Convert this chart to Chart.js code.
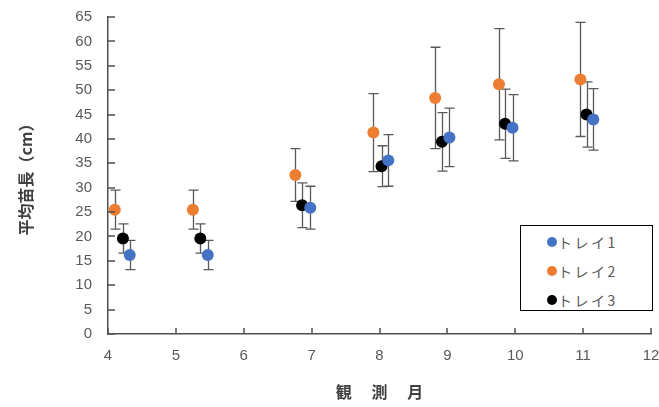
<!DOCTYPE html>
<html>
<head>
<meta charset="utf-8">
<script src="https://cdn.jsdelivr.net/npm/chart.js@4.4.1/dist/chart.umd.min.js"></script>
<style>
html,body{margin:0;padding:0;background:#fff;}
#wrap{position:relative;width:659px;height:407px;}
#legend{position:absolute;left:520px;top:225px;width:133px;height:86px;border:1px solid #000;box-sizing:border-box;background:#fff;font-family:"Noto Sans CJK JP","Noto Sans",sans-serif;font-size:14px;color:#595959;}
.row{position:absolute;left:0;height:20px;line-height:20px;white-space:nowrap;}
.dot{position:absolute;left:26px;top:5px;width:10px;height:10px;border-radius:50%;}
.lbl{position:absolute;left:37px;top:0;letter-spacing:2.5px;}
</style>
</head>
<body>
<div id="wrap">
<canvas id="c" width="659" height="407"></canvas>
<div id="legend"></div>
</div>
<script>
// ---- data ----
const seriesNames = ['トレイ1', 'トレイ2', 'トレイ3'];
const seriesColors = ['#4472C4', '#ED7D31', '#000000'];

// トレイ1 (blue)
const tray1X   = [4.32, 5.47, 6.98, 8.13, 9.03, 9.96, 11.15];
const tray1Y   = [16.2, 16.2, 25.9, 35.6, 40.3, 42.3, 44.0];
const tray1Err = [3.0, 3.0, 4.4, 5.3, 6.0, 6.8, 6.3];

// トレイ2 (orange)
const tray2X   = [4.10, 5.25, 6.76, 7.91, 8.82, 9.76, 10.96];
const tray2Y   = [25.5, 25.5, 32.6, 41.3, 48.4, 51.2, 52.2];
const tray2Err = [4.0, 4.0, 5.4, 8.0, 10.4, 11.4, 11.7];

// トレイ3 (black)
const tray3X   = [4.22, 5.36, 6.86, 8.03, 8.92, 9.85, 11.05];
const tray3Y   = [19.6, 19.6, 26.4, 34.4, 39.4, 43.1, 45.0];
const tray3Err = [3.0, 3.0, 4.6, 4.2, 6.0, 7.1, 6.7];

const xTickValues = [4, 5, 6, 7, 8, 9, 10, 11, 12];
const yTickValues = [0, 5, 10, 15, 20, 25, 30, 35, 40, 45, 50, 55, 60, 65];

const xTitle = '観　 測　 月';
const yTitle = '平均苗長（cm）';

// ---- build ----
const allX = [tray1X, tray2X, tray3X];
const allY = [tray1Y, tray2Y, tray3Y];
const allErr = [tray1Err, tray2Err, tray3Err];

const datasets = seriesNames.map((name, s) => ({
  label: name,
  data: allX[s].map((x, i) => ({ x: x, y: allY[s][i] })),
  backgroundColor: seriesColors[s],
  borderColor: seriesColors[s],
  pointRadius: 6,
  pointHoverRadius: 6,
  borderWidth: 0,
  errors: allErr[s]
}));

const errorBarPlugin = {
  id: 'errorBars',
  beforeDatasetsDraw(chart) {
    const ctx = chart.ctx;
    const xs = chart.scales.x, ys = chart.scales.y;
    ctx.save();
    ctx.strokeStyle = '#595959';
    ctx.lineWidth = 1.3;
    chart.data.datasets.forEach((ds) => {
      ds.data.forEach((p, i) => {
        const e = ds.errors[i];
        const px = Math.round(xs.getPixelForValue(p.x)) + 0.5;
        const yt = ys.getPixelForValue(p.y + e);
        const yb = ys.getPixelForValue(p.y - e);
        ctx.beginPath();
        ctx.moveTo(px, yt); ctx.lineTo(px, yb);
        ctx.moveTo(px - 5, yt); ctx.lineTo(px + 5, yt);
        ctx.moveTo(px - 5, yb); ctx.lineTo(px + 5, yb);
        ctx.stroke();
      });
    });
    ctx.restore();
  }
};

const insideTicksPlugin = {
  id: 'insideTicks',
  afterDraw(chart) {
    const ctx = chart.ctx;
    const xs = chart.scales.x, ys = chart.scales.y;
    const a = chart.chartArea;
    ctx.save();
    ctx.strokeStyle = '#505050';
    ctx.lineWidth = 1.5;
    ctx.beginPath();
    xTickValues.forEach(v => {
      const px = Math.round(xs.getPixelForValue(v));
      ctx.moveTo(px, a.bottom); ctx.lineTo(px, a.bottom - 6);
    });
    yTickValues.forEach(v => {
      const py = Math.round(ys.getPixelForValue(v));
      ctx.moveTo(a.left, py); ctx.lineTo(a.left + 7, py);
    });
    ctx.stroke();
    ctx.restore();
  }
};

new Chart(document.getElementById('c'), {
  type: 'scatter',
  data: { datasets: datasets },
  plugins: [errorBarPlugin, insideTicksPlugin],
  options: {
    responsive: false,
    animation: false,
    layout: { padding: { top: 17, right: 8, left: 0, bottom: 0 } },
    plugins: { legend: { display: false }, tooltip: { enabled: false } },
    scales: {
      x: {
        type: 'linear',
        min: 4, max: 12,
        afterFit(scale) { scale.height = 73; scale.paddingLeft = 0; scale.paddingRight = 0; },
        afterBuildTicks(scale) { scale.ticks = xTickValues.map(v => ({ value: v })); },
        grid: { display: false },
        border: { display: true, color: '#505050', width: 1.5 },
        ticks: {
          padding: 5,
          color: '#595959',
          font: { family: 'Liberation Sans', size: 15 },
          maxRotation: 0
        },
        title: {
          display: true,
          text: xTitle,
          color: '#404040',
          font: { family: 'Noto Sans CJK JP', size: 16, weight: 'bold' },
          padding: { top: 0, bottom: 5 }
        }
      },
      y: {
        type: 'linear',
        min: 0, max: 65,
        afterFit(scale) { scale.width = 108; scale.paddingTop = 0; scale.paddingBottom = 0; },
        afterBuildTicks(scale) { scale.ticks = yTickValues.map(v => ({ value: v })); },
        grid: { display: false },
        border: { display: true, color: '#505050', width: 1.5 },
        ticks: {
          padding: 8,
          color: '#595959',
          font: { family: 'Liberation Sans', size: 15 }
        },
        title: {
          display: true,
          text: yTitle,
          color: '#404040',
          font: { family: 'Noto Sans CJK JP', size: 16, weight: 'bold' },
          padding: { top: 16, bottom: 0 }
        }
      }
    }
  }
});

// legend (HTML, built from the series arrays)
const legend = document.getElementById('legend');
seriesNames.forEach((name, s) => {
  const row = document.createElement('div');
  row.className = 'row';
  row.style.top = (6 + s * 29) + 'px';
  row.innerHTML = '<span class="dot" style="background:' + seriesColors[s] + '"></span><span class="lbl"></span>';
  row.querySelector('.lbl').textContent = name;
  legend.appendChild(row);
});
</script>
</body>
</html>
